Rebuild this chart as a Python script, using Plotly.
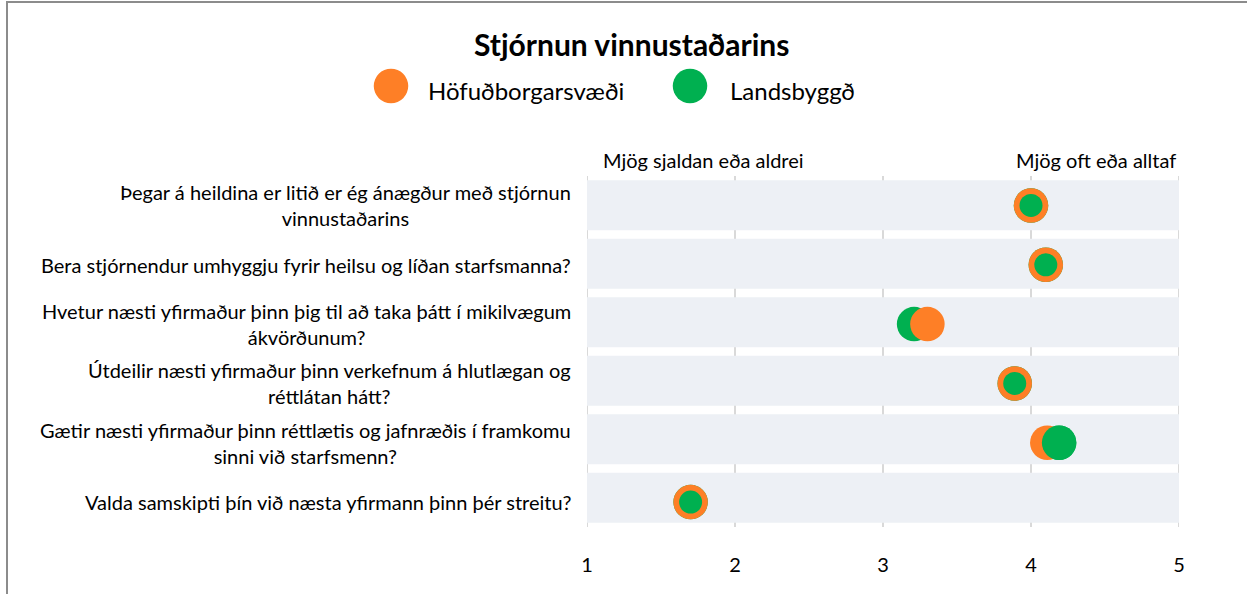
import plotly.graph_objects as go

# Survey items (top to bottom) and mean scores on a 1-5 scale
questions = [
    "Þegar á heildina er litið er ég ánægður með stjórnun<br>vinnustaðarins",
    "Bera stjórnendur umhyggju fyrir heilsu og líðan starfsmanna?",
    "Hvetur næsti yfirmaður þinn þig til að taka þátt í mikilvægum<br>ákvörðunum?",
    "Útdeilir næsti yfirmaður þinn verkefnum á hlutlægan og<br>réttlátan hátt?",
    "Gætir næsti yfirmaður þinn réttlætis og jafnræðis í framkomu<br>sinni við starfsmenn?",
    "Valda samskipti þín við næsta yfirmann þinn þér streitu?",
]
hofudborg = [4.0, 4.1, 3.3, 3.89, 4.11, 1.7]
landsbyggd = [4.0, 4.1, 3.21, 3.89, 4.19, 1.7]

series_names = ["Höfuðborgarsvæði", "Landsbyggð"]
scale_ticks = [1, 2, 3, 4, 5]
scale_ends = ["Mjög sjaldan eða aldrei", "Mjög oft eða alltaf"]
title_text = "Stjórnun vinnustaðarins"

ORANGE = "#FE7F26"
GREEN = "#00B050"
BAND = "#EDF0F5"
GRID = "#D9D9D9"
FONT = "Lato"

W, H = 1247, 594
L, R, T, B = 587, 1179, 176, 527  # plot area in pixels

def px_x(p):
    return (p - L) / (R - L)

def px_y(p):
    return (B - p) / (B - T)

rows = list(range(len(questions)))
BIG, SMALL = 34.5, 23

# where both groups coincide, the green dot sits inside the orange one
green_top_sizes = [SMALL if abs(g - o) < 0.05 else BIG for g, o in zip(landsbyggd, hofudborg)]
green_top_rows = [k for k in rows if landsbyggd[k] >= hofudborg[k]]

no_line = dict(width=0)
fig = go.Figure()
fig.add_trace(go.Scatter(
    x=landsbyggd, y=rows, mode="markers", name=series_names[1],
    marker=dict(size=BIG, color=GREEN, opacity=1, line=no_line),
    showlegend=False, hoverinfo="x",
))
fig.add_trace(go.Scatter(
    x=hofudborg, y=rows, mode="markers", name=series_names[0],
    marker=dict(size=BIG, color=ORANGE, opacity=1, line=no_line),
    showlegend=False, hoverinfo="x",
))
fig.add_trace(go.Scatter(
    x=[landsbyggd[k] for k in green_top_rows], y=green_top_rows, mode="markers",
    name=series_names[1],
    marker=dict(size=[green_top_sizes[k] for k in green_top_rows], color=GREEN,
                opacity=1, line=no_line),
    showlegend=False, hoverinfo="x",
))

shapes = []
# grey row bands
for k in rows:
    shapes.append(dict(type="rect", xref="x", yref="y2", x0=1, x1=5,
                       y0=k - 0.427, y1=k + 0.427, fillcolor=BAND,
                       line=dict(width=0), layer="below"))
# vertical gridlines
for t in scale_ticks:
    shapes.append(dict(type="line", xref="x", yref="paper", x0=t, x1=t, y0=0, y1=1,
                       line=dict(color=GRID, width=2), layer="below"))
# outer frame
shapes.append(dict(type="rect", xref="paper", yref="paper",
                   x0=px_x(7), x1=px_x(1265), y0=px_y(610), y1=px_y(2),
                   line=dict(color="#8C8C8C", width=2), fillcolor="rgba(0,0,0,0)"))
# legend swatches
for cx, col in [(391, ORANGE), (690, GREEN)]:
    shapes.append(dict(type="circle", xref="paper", yref="paper",
                       xsizemode="pixel", ysizemode="pixel",
                       xanchor=px_x(cx), yanchor=px_y(86),
                       x0=-17.25, x1=17.25, y0=-17.25, y1=17.25,
                       fillcolor=col, line=dict(width=0)))

annotations = []
for k, q in enumerate(questions):
    annotations.append(dict(x=1, y=k, xref="x", yref="y", text=q, showarrow=False,
                            xanchor="right", yanchor="middle", align="center",
                            xshift=-14, font=dict(family=FONT, size=20, color="#000000")))
annotations.append(dict(x=px_x(631), y=px_y(44), xref="paper", yref="paper",
                        text="<b>" + title_text + "</b>", showarrow=False,
                        xanchor="center", yanchor="middle",
                        font=dict(family=FONT, size=30, color="#000000")))
for lx, name in [(428, series_names[0]), (730, series_names[1])]:
    annotations.append(dict(x=px_x(lx), y=px_y(90), xref="paper", yref="paper",
                            text=name, showarrow=False, xanchor="left", yanchor="middle",
                            xshift=-2,
                            font=dict(family=FONT, size=24, color="#000000")))
for cx, txt in [(703, scale_ends[0]), (1096, scale_ends[1])]:
    annotations.append(dict(x=px_x(cx), y=px_y(160), xref="paper", yref="paper",
                            text=txt, showarrow=False, xanchor="center", yanchor="middle",
                            font=dict(family=FONT, size=20, color="#000000")))

fig.update_layout(
    width=W, height=H,
    margin=dict(l=L, r=W - R, t=T, b=H - B, pad=0),
    paper_bgcolor="white", plot_bgcolor="rgba(0,0,0,0)",
    showlegend=False,
    shapes=shapes, annotations=annotations,
    xaxis=dict(range=[1, 5], tickvals=scale_ticks, showgrid=False, zeroline=False,
               showline=False, ticks="outside", ticklen=20, tickcolor="rgba(0,0,0,0)",
               tickfont=dict(family=FONT, size=20, color="#000000"), fixedrange=True),
    yaxis=dict(range=[5.42, -0.497], showticklabels=False, showgrid=False,
               zeroline=False, showline=False, fixedrange=True),
    yaxis2=dict(range=[5.5, -0.5], overlaying="y", showticklabels=False,
                showgrid=False, zeroline=False, showline=False, fixedrange=True),
)

fig.write_html("out.html")
